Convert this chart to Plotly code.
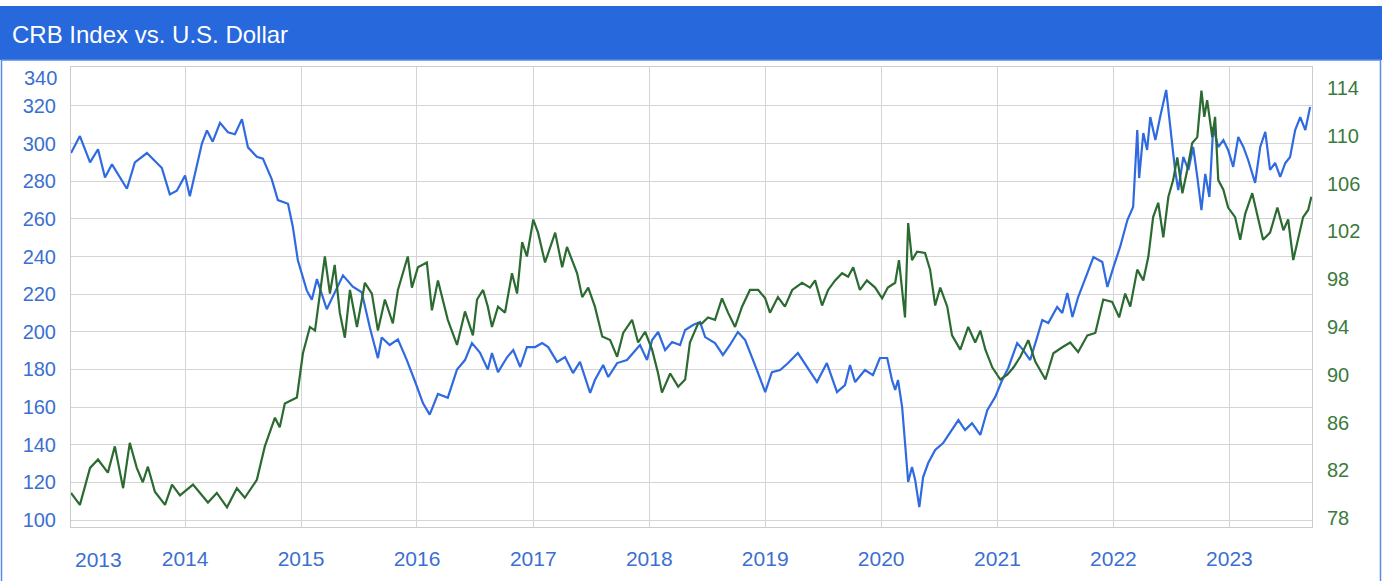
import datetime as dt
import plotly.graph_objects as go

# ---- data (decimal years) ----
crb_t = [2013.017, 2013.095, 2013.181, 2013.250, 2013.310, 2013.371, 2013.500, 2013.569, 2013.672, 2013.802,
         2013.871, 2013.931, 2014.000, 2014.043, 2014.147, 2014.190, 2014.241, 2014.302, 2014.371, 2014.431,
         2014.491, 2014.543, 2014.621, 2014.672, 2014.750, 2014.802, 2014.888, 2014.931, 2014.974, 2015.052,
         2015.095, 2015.138, 2015.224, 2015.293, 2015.362, 2015.448, 2015.526, 2015.595, 2015.664, 2015.698,
         2015.767, 2015.836, 2015.914, 2015.983, 2016.052, 2016.112, 2016.181, 2016.267, 2016.345, 2016.414,
         2016.474, 2016.543, 2016.612, 2016.647, 2016.698, 2016.776, 2016.828, 2016.888, 2016.948, 2017.017,
         2017.078, 2017.129, 2017.207, 2017.276, 2017.345, 2017.405, 2017.448, 2017.491, 2017.534, 2017.603,
         2017.647, 2017.724, 2017.810, 2017.862, 2017.922, 2017.983, 2018.026, 2018.078, 2018.138, 2018.198,
         2018.267, 2018.310, 2018.379, 2018.440, 2018.483, 2018.569, 2018.638, 2018.698, 2018.767, 2018.828,
         2018.888, 2018.931, 2019.000, 2019.060, 2019.129, 2019.198, 2019.284, 2019.362, 2019.448, 2019.534,
         2019.621, 2019.690, 2019.733, 2019.776, 2019.862, 2019.931, 2019.991, 2020.052, 2020.095, 2020.121,
         2020.147, 2020.181, 2020.207, 2020.233, 2020.267, 2020.293, 2020.328, 2020.362, 2020.405, 2020.466,
         2020.534, 2020.612, 2020.664, 2020.724, 2020.784, 2020.853, 2020.914, 2020.983, 2021.043, 2021.095,
         2021.172, 2021.224, 2021.284, 2021.345, 2021.388, 2021.440, 2021.517, 2021.560, 2021.603, 2021.647,
         2021.698, 2021.776, 2021.828, 2021.905, 2021.948, 2022.000, 2022.060, 2022.121, 2022.172, 2022.207,
         2022.224, 2022.259, 2022.293, 2022.319, 2022.362, 2022.405, 2022.457, 2022.491, 2022.534, 2022.560,
         2022.603, 2022.647, 2022.690, 2022.724, 2022.759, 2022.793, 2022.828, 2022.862, 2022.905, 2022.948,
         2022.991, 2023.034, 2023.078, 2023.121, 2023.164, 2023.224, 2023.267, 2023.310, 2023.353, 2023.397,
         2023.440, 2023.483, 2023.526, 2023.569, 2023.612, 2023.655, 2023.698]
crb_v = [295, 304, 290, 297, 282, 289, 276, 290, 295, 287,
         273, 275, 283, 272, 300, 307, 301, 311, 306, 305,
         313, 298, 293, 292, 281, 270, 268, 256, 238, 222,
         217, 228, 212, 221, 230, 224, 221, 202, 186, 197,
         193, 196, 185, 174, 162, 156, 167, 165, 180, 185,
         194, 189, 180, 188.7, 178.6, 186.6, 190.3, 181.3, 191.9, 191.9,
         194, 191.9, 184, 186.6, 178.1, 184, 176, 167.5, 174.4, 182.4,
         176, 183.4, 185, 188.7, 193, 185, 195.6, 199.9, 190.3, 194.6,
         193, 201, 203.6, 205.2, 197.2, 194, 187.7, 193, 199.9, 195.6,
         186.6, 179.7, 168, 178.6, 179.7, 183.4, 188.7, 181.3, 173.3, 183.4,
         168, 171.7, 182.4, 173.3, 179.7, 177, 186.1, 186.1, 174.4, 169.1,
         174.4, 160, 140.9, 120.2, 128.2, 121.3, 106.9, 122.8, 130.3, 137.2,
         140.9, 147.8, 153.1, 147.8, 151.5, 145.2, 158.4, 165.4, 174.4, 180.8,
         194, 190.3, 185, 197.2, 206.3, 204.7, 213.2, 210, 220.6, 207.9,
         218.5, 231.2, 239.7, 237.1, 223.8, 234.4, 245.1, 259.4, 266.3, 307.2,
         281.7, 305.6, 296.6, 314.1, 301.9, 314.1, 328.5, 308.8, 286, 275.3,
         292.9, 286, 298.2, 282.3, 264.7, 283.9, 271.6, 308.8, 298.2, 301.9,
         296.6, 287.6, 303.5, 298.2, 291.3, 279.1, 298.2, 306.2, 286, 289.7,
         282.3, 289.7, 292.9, 307.2, 314.1, 307.2, 319.4]

dxy_t = [2013.017, 2013.095, 2013.181, 2013.250, 2013.336, 2013.397, 2013.466, 2013.526, 2013.586, 2013.638,
         2013.681, 2013.741, 2013.828, 2013.888, 2013.957, 2014.069, 2014.198, 2014.276, 2014.362, 2014.448,
         2014.517, 2014.621, 2014.690, 2014.776, 2014.819, 2014.862, 2014.966, 2015.017, 2015.078, 2015.121,
         2015.207, 2015.250, 2015.293, 2015.336, 2015.379, 2015.422, 2015.483, 2015.552, 2015.612, 2015.664,
         2015.724, 2015.793, 2015.836, 2015.922, 2015.957, 2016.009, 2016.086, 2016.129, 2016.181, 2016.267,
         2016.345, 2016.414, 2016.483, 2016.517, 2016.569, 2016.612, 2016.647, 2016.698, 2016.759, 2016.819,
         2016.862, 2016.905, 2016.948, 2017.000, 2017.043, 2017.103, 2017.190, 2017.250, 2017.293, 2017.379,
         2017.422, 2017.474, 2017.534, 2017.595, 2017.664, 2017.724, 2017.776, 2017.853, 2017.905, 2017.966,
         2018.026, 2018.078, 2018.112, 2018.181, 2018.250, 2018.310, 2018.353, 2018.422, 2018.457, 2018.509,
         2018.569, 2018.629, 2018.681, 2018.741, 2018.802, 2018.871, 2018.940, 2019.000, 2019.043, 2019.112,
         2019.172, 2019.233, 2019.319, 2019.388, 2019.431, 2019.491, 2019.543, 2019.603, 2019.664, 2019.716,
         2019.759, 2019.819, 2019.879, 2019.948, 2020.009, 2020.060, 2020.121, 2020.155, 2020.207, 2020.233,
         2020.267, 2020.310, 2020.379, 2020.422, 2020.466, 2020.509, 2020.569, 2020.612, 2020.681, 2020.750,
         2020.810, 2020.853, 2020.897, 2020.957, 2021.026, 2021.086, 2021.138, 2021.198, 2021.267, 2021.328,
         2021.414, 2021.483, 2021.560, 2021.629, 2021.698, 2021.776, 2021.845, 2021.914, 2021.991, 2022.052,
         2022.103, 2022.147, 2022.207, 2022.259, 2022.302, 2022.345, 2022.388, 2022.431, 2022.474, 2022.517,
         2022.552, 2022.595, 2022.638, 2022.681, 2022.724, 2022.759, 2022.784, 2022.810, 2022.853, 2022.879,
         2022.905, 2022.948, 2022.991, 2023.052, 2023.095, 2023.138, 2023.198, 2023.241, 2023.293, 2023.353,
         2023.414, 2023.466, 2023.509, 2023.552, 2023.595, 2023.638, 2023.681, 2023.707]
dxy_v = [80.1, 79.1, 82.2, 82.9, 81.8, 84.0, 80.5, 84.3, 82.2, 81.0,
         82.3, 80.2, 79.1, 80.8, 79.9, 80.8, 79.3, 80.1, 78.9, 80.5,
         79.7, 81.2, 84.0, 86.4, 85.6, 87.6, 88.1, 91.8, 94.0, 93.7,
         99.9, 96.8, 99.2, 95.2, 93.1, 97.1, 94.0, 97.7, 96.8, 93.7,
         96.3, 94.3, 97.1, 99.9, 97.3, 99.0, 99.4, 95.4, 97.9, 94.6,
         92.5, 95.3, 93.3, 96.3, 97.1, 95.7, 94.0, 95.7, 95.2, 98.5,
         96.8, 101.1, 99.9, 103.0, 101.9, 99.4, 101.9, 99.0, 100.7, 98.5,
         96.5, 97.3, 95.7, 93.2, 92.9, 91.5, 93.5, 94.6, 92.7, 93.6,
         92.1, 90.1, 88.5, 90.1, 89.0, 89.6, 92.7, 94.3, 94.3, 94.8,
         94.6, 96.4, 95.2, 94.0, 95.7, 97.1, 97.1, 96.4, 95.2, 96.5,
         95.7, 97.1, 97.7, 97.3, 97.9, 95.8, 97.1, 97.9, 98.5, 98.2,
         99.0, 97.1, 97.9, 97.3, 96.4, 97.3, 97.7, 99.6, 94.8, 102.7,
         99.6, 100.3, 100.2, 98.8, 95.8, 97.3, 95.7, 93.3, 92.1, 94.0,
         92.7, 93.7, 92.1, 90.6, 89.6, 90.0, 90.6, 91.5, 92.9, 91.1,
         89.6, 91.8, 92.3, 92.7, 91.9, 93.3, 93.5, 96.3, 96.1, 94.8,
         96.8, 95.7, 98.8, 97.9, 99.9, 103.2, 104.4, 101.5, 104.9, 106.3,
         108.2, 105.2, 107.1, 109.4, 109.9, 113.8, 111.6, 113.0, 109.9, 111.6,
         106.3, 105.5, 104.0, 103.2, 101.3, 103.5, 105.2, 103.5, 101.3, 101.9,
         104.0, 102.1, 103.0, 99.6, 101.5, 103.2, 103.8, 104.9]

crb_ticks = [100, 120, 140, 160, 180, 200, 220, 240, 260, 280, 300, 320]
dxy_ticks = [78, 82, 86, 90, 94, 98, 102, 106, 110, 114]
year_ticks = ["2014", "2015", "2016", "2017", "2018", "2019", "2020", "2021", "2022", "2023"]


def to_date(t):
    y = int(t)
    start = dt.datetime(y, 1, 1)
    days = (dt.datetime(y + 1, 1, 1) - start).days
    return (start + dt.timedelta(days=(t - y) * days)).strftime("%Y-%m-%d")


crb_d = [to_date(t) for t in crb_t]
dxy_d = [to_date(t) for t in dxy_t]

BLUE_LINE = "#2f6ae0"
GREEN_LINE = "#2b6a30"
BLUE_TXT = "#3b6fd0"
GREEN_TXT = "#3a7a3c"
HEADER = "#2768dc"
FONT = "Liberation Sans, Arial, Helvetica, sans-serif"

W, H = 1385, 581
L, R, T, B = 71, 73, 67, 54
pw, ph = W - L - R, H - T - B


def px_x(x):
    return (x - L) / pw


def px_y(y):
    return (H - B - y) / ph


fig = go.Figure()
fig.add_trace(go.Scatter(x=dxy_d, y=dxy_v, mode="lines", yaxis="y2",
                         line=dict(color=GREEN_LINE, width=2.2), name="U.S. Dollar"))
fig.add_trace(go.Scatter(x=crb_d, y=crb_v, mode="lines",
                         line=dict(color=BLUE_LINE, width=2.2), name="CRB Index"))

fig.update_layout(
    width=W, height=H,
    margin=dict(l=L, r=R, t=T, b=B),
    paper_bgcolor="white", plot_bgcolor="white",
    showlegend=False,
    font=dict(family=FONT),
    xaxis=dict(
        type="date",
        range=["2013-01-07", "2023-09-18"],
        tickvals=[y + "-01-01" for y in year_ticks],
        ticktext=year_ticks,
        showgrid=True, gridcolor="#d4d4d4", gridwidth=1,
        showline=True, linecolor="#cccccc", linewidth=1, mirror=True,
        ticks="outside", ticklen=13, tickcolor="rgba(0,0,0,0)",
        tickfont=dict(size=21, color=BLUE_TXT, family=FONT),
        zeroline=False,
    ),
    yaxis=dict(
        range=[96.3, 340.7],
        tickvals=crb_ticks,
        showgrid=True, gridcolor="#d4d4d4", gridwidth=1,
        showline=True, linecolor="#cccccc", linewidth=1, mirror=True,
        ticks="outside", ticklen=10, tickcolor="rgba(0,0,0,0)",
        tickfont=dict(size=20, color=BLUE_TXT, family=FONT),
        zeroline=False,
    ),
    yaxis2=dict(
        overlaying="y", side="right",
        range=[77.25, 115.77],
        tickvals=dxy_ticks,
        showgrid=False, zeroline=False,
        ticks="outside", ticklen=10, tickcolor="rgba(0,0,0,0)",
        tickfont=dict(size=20, color=GREEN_TXT, family=FONT),
    ),
    shapes=[
        dict(type="rect", xref="paper", yref="paper", layer="below",
             x0=px_x(0), x1=px_x(1382), y0=px_y(60), y1=px_y(6),
             fillcolor=HEADER, line=dict(width=0)),
        dict(type="rect", xref="paper", yref="paper",
             x0=px_x(1.5), x1=px_x(1380.5), y0=px_y(600), y1=px_y(60),
             fillcolor="rgba(0,0,0,0)", line=dict(color="#5b8be0", width=1.5)),
    ],
    annotations=[
        dict(text="CRB Index vs. U.S. Dollar", xref="paper", yref="paper",
             x=px_x(10), y=px_y(35), xanchor="left", yanchor="middle", showarrow=False,
             font=dict(size=24, color="white", family=FONT)),
        dict(text="340", xref="paper", yref="paper",
             x=px_x(59), y=px_y(78), xanchor="right", yanchor="middle", showarrow=False,
             font=dict(size=20, color=BLUE_TXT, family=FONT)),
        dict(text="2013", xref="paper", yref="paper",
             x=px_x(98), y=px_y(559), xanchor="center", yanchor="middle", showarrow=False,
             font=dict(size=21, color=BLUE_TXT, family=FONT)),
    ],
)

fig.write_html("out.html")
